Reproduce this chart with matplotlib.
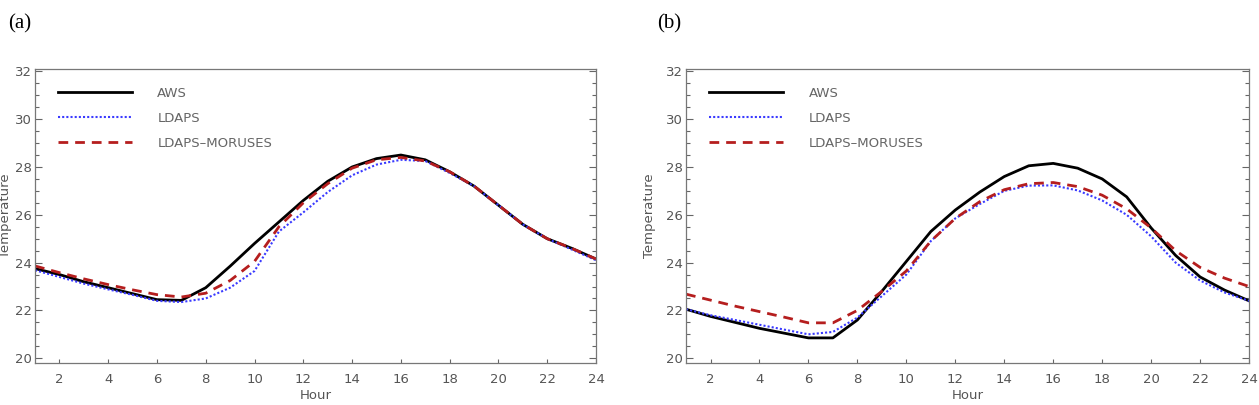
import numpy as np
import matplotlib
matplotlib.use("Agg")
import matplotlib.pyplot as plt
from matplotlib.ticker import MultipleLocator

# Stunden
hours = np.arange(1, 25)

# (a)
aws_a = [23.75, 23.5, 23.2, 22.95, 22.7, 22.45, 22.42, 22.95, 23.85, 24.8, 25.7, 26.6,
         27.4, 28.0, 28.35, 28.5, 28.3, 27.8, 27.2, 26.4, 25.6, 25.0, 24.6, 24.15]
ldaps_a = [23.68, 23.4, 23.12, 22.88, 22.65, 22.4, 22.35, 22.5, 22.95, 23.65, 25.3, 26.1,
           26.95, 27.65, 28.1, 28.3, 28.25, 27.75, 27.2, 26.4, 25.6, 25.0, 24.55, 24.1]
moruses_a = [23.86, 23.58, 23.32, 23.08, 22.86, 22.66, 22.56, 22.72, 23.25, 24.05, 25.5, 26.5,
             27.3, 27.95, 28.3, 28.4, 28.25, 27.8, 27.2, 26.4, 25.6, 25.0, 24.6, 24.15]

# (b)
aws_b = [22.05, 21.75, 21.5, 21.25, 21.05, 20.85, 20.85, 21.6, 22.8, 24.05, 25.3, 26.2,
         26.95, 27.6, 28.05, 28.15, 27.95, 27.5, 26.75, 25.45, 24.3, 23.4, 22.85, 22.4]
ldaps_b = [22.05, 21.8, 21.6, 21.4, 21.2, 21.0, 21.1, 21.7, 22.6, 23.5, 24.9, 25.85,
           26.45, 27.0, 27.22, 27.23, 27.02, 26.6, 26.0, 25.1, 24.0, 23.25, 22.75, 22.4]
moruses_b = [22.68, 22.43, 22.18, 21.95, 21.72, 21.48, 21.48, 22.0, 22.8, 23.65, 24.9, 25.85,
             26.55, 27.05, 27.3, 27.35, 27.18, 26.82, 26.25, 25.45, 24.5, 23.8, 23.35, 23.0]

labels = ["AWS", "LDAPS", "LDAPS\u2013MORUSES"]
grau = "#666666"
fs = 9.5

fig = plt.figure(figsize=(12.59, 4.05), dpi=100)
ax_a = fig.add_axes([0.0278, 0.1037, 0.4456, 0.726])
ax_b = fig.add_axes([0.5449, 0.1037, 0.4472, 0.726])

for ax, aws, ldaps, mor, lpad in [(ax_a, aws_a, ldaps_a, moruses_a, 1.5),
                                  (ax_b, aws_b, ldaps_b, moruses_b, 7)]:
    ax.plot(hours, aws, color="black", lw=2.0, label=labels[0])
    ax.plot(hours, ldaps, color="#3a3aff", lw=1.5, ls=(0, (1, 1)), label=labels[1])
    ax.plot(hours, mor, color="#b51e1e", lw=2.0, ls=(0, (3.5, 2.5)), label=labels[2])

    ax.set_xlim(1, 24)
    ax.set_ylim(19.8, 32.1)
    ax.xaxis.set_major_locator(MultipleLocator(2))
    ax.yaxis.set_major_locator(MultipleLocator(2))
    ax.yaxis.set_minor_locator(MultipleLocator(0.5))
    ax.tick_params(axis="both", which="both", direction="in", colors=grau,
                   labelcolor="#555555", labelsize=fs, width=0.8)
    ax.tick_params(axis="y", which="major", length=5, right=True, pad=2.5)
    ax.tick_params(axis="y", which="minor", length=3, right=True)
    ax.tick_params(axis="x", which="major", length=3, pad=7)
    for s in ax.spines.values():
        s.set_color("#777777")
        s.set_linewidth(0.9)

    ax.set_xlabel("Hour", fontsize=fs, color="#555555", labelpad=2)
    ax.set_ylabel("Temperature", fontsize=fs, color="#555555", labelpad=lpad)

    ax.legend(loc="upper left", frameon=False, fontsize=fs, labelcolor="#666666",
              handlelength=5.6, handletextpad=1.9, labelspacing=0.92,
              borderaxespad=0.95, bbox_to_anchor=(0.01, 1.0))

fig.text(0.0064, 0.94, "(a)", fontsize=15, family="Liberation Serif", va="center")
fig.text(0.5218, 0.94, "(b)", fontsize=15, family="Liberation Serif", va="center")

fig.savefig("out.png", dpi=100)
